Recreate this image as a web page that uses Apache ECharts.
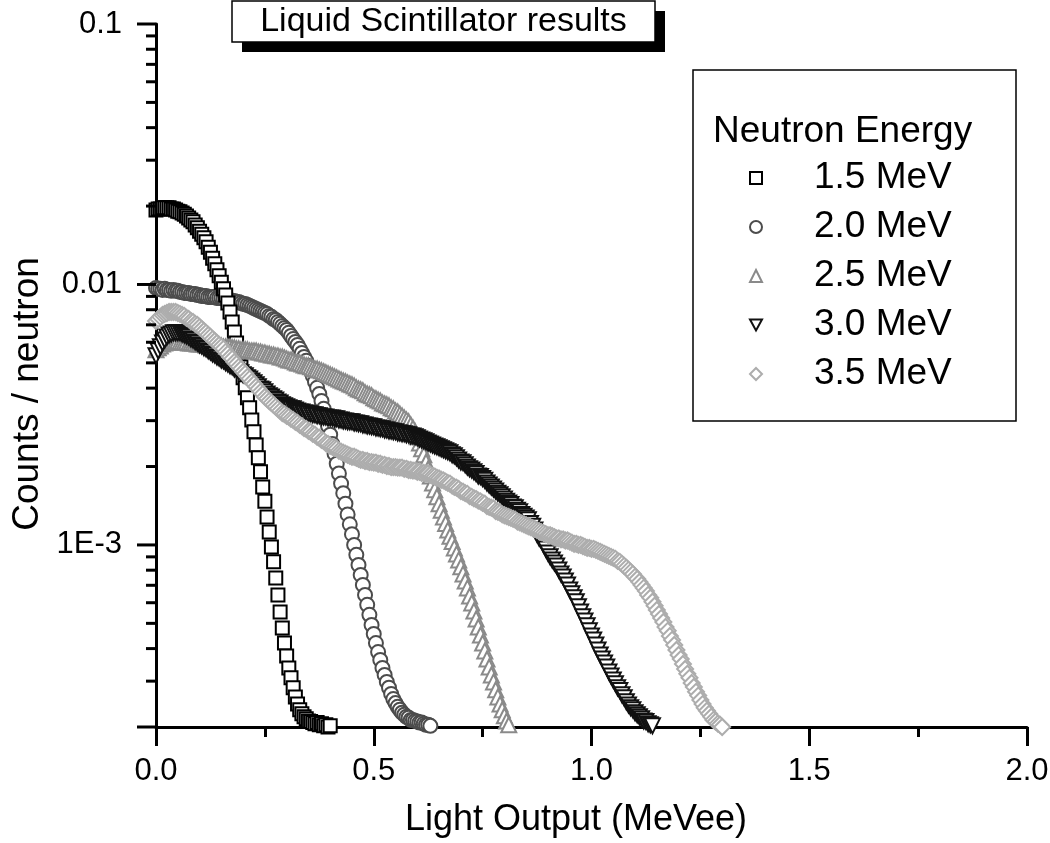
<!DOCTYPE html>
<html><head><meta charset="utf-8">
<script src="https://cdn.jsdelivr.net/npm/echarts@6/dist/echarts.min.js"></script>
<style>html,body{margin:0;padding:0;background:#fff}#chart{width:1050px;height:843px}</style>
</head><body><div id="chart"></div>
<script>
const FONT = '"Liberation Sans", Arial, Helvetica, sans-serif';
const BIN_WIDTH = 0.005; // MeVee per channel
const SERIES_NAMES = ['1.5 MeV', '2.0 MeV', '2.5 MeV', '3.0 MeV', '3.5 MeV'];

const COUNTS_1_5 = [
0.0193,0.0195,0.0195,0.0197,0.0197,0.0197,0.0197,0.0195,0.0195,0.0193,
0.0191,0.0190,0.0188,0.0186,0.0183,0.0180,0.0177,0.0174,0.0169,0.0165,
0.0160,0.0156,0.0151,0.0146,0.0139,0.0133,0.0126,0.0120,0.0114,0.0108,
0.0102,0.00962,0.00911,0.00849,0.00784,0.00718,0.00657,0.00596,0.00536,0.00483,
0.00438,0.00401,0.00367,0.00336,0.00302,0.00272,0.00242,0.00216,0.00191,0.00167,
0.00147,0.00128,0.00112,0.000983,0.000861,0.000747,0.000643,0.000553,0.000480,0.000420,
0.000375,0.000337,0.000309,0.000283,0.000261,0.000245,0.000233,0.000225,0.000219,0.000215,
0.000211,0.000210,0.000208,0.000206,0.000208,0.000204,0.000206,0.000202,0.000204,0.000200,
0.000202];

const COUNTS_2_0 = [
0.00970,0.00962,0.00962,0.00953,0.00962,0.00953,0.00953,0.00945,0.00953,0.00945,
0.00945,0.00936,0.00936,0.00928,0.00928,0.00928,0.00920,0.00920,0.00920,0.00911,
0.00911,0.00903,0.00903,0.00903,0.00895,0.00895,0.00895,0.00895,0.00887,0.00887,
0.00887,0.00880,0.00880,0.00872,0.00872,0.00864,0.00864,0.00857,0.00857,0.00849,
0.00842,0.00842,0.00834,0.00827,0.00820,0.00812,0.00805,0.00798,0.00791,0.00784,
0.00777,0.00771,0.00757,0.00751,0.00737,0.00731,0.00718,0.00706,0.00693,0.00681,
0.00669,0.00652,0.00634,0.00617,0.00602,0.00586,0.00566,0.00546,0.00527,0.00509,
0.00487,0.00466,0.00446,0.00423,0.00401,0.00380,0.00357,0.00333,0.00310,0.00286,
0.00265,0.00244,0.00224,0.00205,0.00188,0.00172,0.00158,0.00144,0.00131,0.00120,
0.00110,0.00100,0.000916,0.000838,0.000767,0.000702,0.000643,0.000589,0.000539,0.000493,
0.000455,0.000420,0.000388,0.000362,0.000337,0.000317,0.000298,0.000283,0.000268,0.000256,
0.000247,0.000239,0.000233,0.000227,0.000223,0.000219,0.000217,0.000213,0.000213,0.000211,
0.000210,0.000208,0.000208,0.000206,0.000204,0.000204,0.000202];

const COUNTS_2_5 = [
0.00561,0.00571,0.00581,0.00591,0.00596,0.00602,0.00602,0.00607,0.00607,0.00607,
0.00607,0.00602,0.00602,0.00602,0.00602,0.00596,0.00596,0.00596,0.00596,0.00591,
0.00591,0.00591,0.00591,0.00586,0.00586,0.00586,0.00586,0.00581,0.00581,0.00581,
0.00581,0.00576,0.00576,0.00576,0.00576,0.00571,0.00571,0.00566,0.00566,0.00561,
0.00561,0.00561,0.00561,0.00556,0.00556,0.00556,0.00556,0.00551,0.00551,0.00546,
0.00546,0.00541,0.00541,0.00536,0.00536,0.00532,0.00532,0.00527,0.00527,0.00522,
0.00518,0.00513,0.00513,0.00509,0.00504,0.00500,0.00500,0.00495,0.00491,0.00487,
0.00487,0.00483,0.00478,0.00474,0.00474,0.00470,0.00466,0.00462,0.00458,0.00454,
0.00450,0.00446,0.00442,0.00438,0.00434,0.00430,0.00426,0.00423,0.00419,0.00415,
0.00412,0.00408,0.00401,0.00397,0.00394,0.00391,0.00384,0.00380,0.00377,0.00374,
0.00367,0.00364,0.00360,0.00357,0.00351,0.00348,0.00345,0.00342,0.00336,0.00333,
0.00327,0.00324,0.00318,0.00313,0.00307,0.00302,0.00297,0.00289,0.00281,0.00272,
0.00260,0.00246,0.00234,0.00222,0.00208,0.00196,0.00184,0.00173,0.00163,0.00153,
0.00144,0.00136,0.00128,0.00121,0.00114,0.00108,0.00103,0.000974,0.000924,0.000876,
0.000824,0.000774,0.000727,0.000684,0.000637,0.000599,0.000558,0.000520,0.000484,0.000451,
0.000420,0.000392,0.000365,0.000340,0.000317,0.000298,0.000278,0.000261,0.000245,0.000233,
0.000221,0.000211,0.000204];

const COUNTS_3_0 = [
0.00532,0.00556,0.00576,0.00596,0.00612,0.00629,0.00640,0.00646,0.00652,0.00652,
0.00652,0.00652,0.00646,0.00640,0.00634,0.00629,0.00617,0.00612,0.00602,0.00596,
0.00586,0.00581,0.00571,0.00566,0.00556,0.00551,0.00541,0.00536,0.00527,0.00522,
0.00513,0.00509,0.00500,0.00495,0.00487,0.00483,0.00474,0.00470,0.00462,0.00458,
0.00450,0.00446,0.00438,0.00434,0.00426,0.00419,0.00412,0.00405,0.00397,0.00394,
0.00387,0.00380,0.00374,0.00370,0.00364,0.00360,0.00354,0.00351,0.00345,0.00342,
0.00339,0.00336,0.00333,0.00333,0.00330,0.00327,0.00324,0.00324,0.00321,0.00321,
0.00318,0.00318,0.00316,0.00316,0.00313,0.00313,0.00310,0.00310,0.00310,0.00307,
0.00307,0.00307,0.00305,0.00305,0.00302,0.00302,0.00299,0.00299,0.00297,0.00297,
0.00297,0.00294,0.00294,0.00292,0.00292,0.00289,0.00289,0.00286,0.00286,0.00284,
0.00284,0.00281,0.00281,0.00279,0.00279,0.00276,0.00276,0.00274,0.00274,0.00272,
0.00272,0.00269,0.00269,0.00267,0.00267,0.00265,0.00265,0.00262,0.00262,0.00260,
0.00258,0.00255,0.00253,0.00251,0.00249,0.00246,0.00244,0.00242,0.00240,0.00238,
0.00236,0.00234,0.00232,0.00230,0.00228,0.00226,0.00222,0.00220,0.00216,0.00212,
0.00208,0.00207,0.00203,0.00199,0.00196,0.00194,0.00191,0.00188,0.00184,0.00183,
0.00180,0.00177,0.00173,0.00170,0.00167,0.00164,0.00161,0.00158,0.00156,0.00153,
0.00150,0.00147,0.00145,0.00143,0.00140,0.00139,0.00136,0.00134,0.00131,0.00129,
0.00127,0.00125,0.00121,0.00118,0.00114,0.00110,0.00106,0.00104,0.00100,0.000965,
0.000932,0.000900,0.000876,0.000853,0.000831,0.000802,0.000774,0.000754,0.000727,0.000702,
0.000672,0.000649,0.000627,0.000605,0.000579,0.000553,0.000530,0.000511,0.000489,0.000468,
0.000447,0.000432,0.000413,0.000395,0.000378,0.000365,0.000352,0.000340,0.000325,0.000314,
0.000303,0.000293,0.000283,0.000276,0.000266,0.000259,0.000250,0.000243,0.000237,0.000233,
0.000227,0.000223,0.000219,0.000215,0.000211,0.000210,0.000206,0.000204,0.000202];

const COUNTS_3_5 = [
0.00724,0.00737,0.00751,0.00764,0.00771,0.00777,0.00784,0.00784,0.00784,0.00784,
0.00777,0.00771,0.00764,0.00757,0.00744,0.00737,0.00724,0.00718,0.00706,0.00699,
0.00687,0.00675,0.00663,0.00652,0.00640,0.00629,0.00617,0.00607,0.00596,0.00586,
0.00576,0.00566,0.00551,0.00541,0.00527,0.00518,0.00504,0.00495,0.00483,0.00474,
0.00462,0.00454,0.00442,0.00434,0.00423,0.00415,0.00405,0.00397,0.00387,0.00380,
0.00370,0.00364,0.00357,0.00351,0.00345,0.00339,0.00333,0.00327,0.00321,0.00318,
0.00313,0.00310,0.00305,0.00302,0.00297,0.00294,0.00289,0.00286,0.00281,0.00279,
0.00274,0.00272,0.00267,0.00265,0.00260,0.00258,0.00253,0.00251,0.00246,0.00244,
0.00240,0.00238,0.00236,0.00234,0.00230,0.00228,0.00226,0.00224,0.00222,0.00220,
0.00218,0.00218,0.00216,0.00214,0.00212,0.00212,0.00210,0.00210,0.00208,0.00208,
0.00207,0.00207,0.00205,0.00205,0.00203,0.00203,0.00201,0.00201,0.00199,0.00199,
0.00199,0.00198,0.00198,0.00198,0.00196,0.00196,0.00194,0.00194,0.00193,0.00193,
0.00191,0.00191,0.00189,0.00189,0.00188,0.00188,0.00186,0.00184,0.00183,0.00181,
0.00180,0.00178,0.00177,0.00175,0.00173,0.00172,0.00169,0.00167,0.00166,0.00164,
0.00161,0.00160,0.00158,0.00157,0.00154,0.00153,0.00151,0.00150,0.00148,0.00147,
0.00145,0.00144,0.00141,0.00140,0.00139,0.00138,0.00135,0.00134,0.00133,0.00131,
0.00130,0.00129,0.00128,0.00127,0.00126,0.00125,0.00123,0.00122,0.00121,0.00120,
0.00119,0.00118,0.00117,0.00116,0.00115,0.00114,0.00113,0.00112,0.00111,0.00110,
0.00109,0.00109,0.00108,0.00107,0.00106,0.00106,0.00105,0.00105,0.00104,0.00104,
0.00103,0.00102,0.00101,0.00101,0.00100,0.00100,0.000991,0.000983,0.000974,0.000974,
0.000966,0.000966,0.000957,0.000949,0.000941,0.000932,0.000924,0.000916,0.000908,0.000900,
0.000892,0.000884,0.000868,0.000861,0.000846,0.000831,0.000817,0.000802,0.000788,0.000774,
0.000754,0.000740,0.000721,0.000702,0.000684,0.000666,0.000643,0.000627,0.000605,0.000584,
0.000563,0.000543,0.000524,0.000506,0.000484,0.000468,0.000447,0.000432,0.000413,0.000395,
0.000378,0.000365,0.000349,0.000334,0.000320,0.000309,0.000295,0.000285,0.000273,0.000264,
0.000254,0.000245,0.000237,0.000231,0.000225,0.000219,0.000213,0.000210,0.000206,0.000204,
0.000200];

const X_TICK_LABELS = ['0.0', '0.5', '1.0', '1.5', '2.0'];
const Y_TICK_LABELS = { '-1': '0.1', '-2': '0.01', '-3': '1E-3' };
const Y_MAJOR_TICKS = [0.0002, 0.001, 0.01, 0.1];
const Y_MINOR_TICKS = [0.0003,0.0004,0.0005,0.0006,0.0007,0.0008,0.0009,
  0.002,0.003,0.004,0.005,0.006,0.007,0.008,0.009,
  0.02,0.03,0.04,0.05,0.06,0.07,0.08,0.09];
const TITLE_TEXT = 'Liquid Scintillator results';
const LEGEND_TITLE = 'Neutron Energy';
const X_NAME = 'Light Output (MeVee)';
const Y_NAME = 'Counts / neutron';

const ALL_COUNTS = [COUNTS_1_5, COUNTS_2_0, COUNTS_2_5, COUNTS_3_0, COUNTS_3_5];
const STYLES = [
  { symbol: 'rect', size: 13, color: '#000000', z: 3 },
  { symbol: 'circle', size: 14, color: '#4c4c4c', z: 2 },
  { symbol: 'triangle', size: 15, color: '#8a8a8a', z: 3 },
  { symbol: 'path://M0,0L10,0L5,9Z', size: 15, color: '#111111', z: 3 },
  { symbol: 'diamond', size: 16, color: '#adadad', z: 3 }
];

function toXY(arr) { return arr.map((v, i) => [+(i * BIN_WIDTH).toFixed(3), v]); }

const scatterSeries = ALL_COUNTS.map((arr, k) => ({
  name: SERIES_NAMES[k],
  type: 'scatter',
  data: toXY(arr),
  symbol: STYLES[k].symbol,
  symbolSize: STYLES[k].size,
  itemStyle: { color: '#ffffff', borderColor: STYLES[k].color, borderWidth: 2, opacity: 1 },
  z: STYLES[k].z,
  silent: true,
  animation: false,
  clip: true
}));

const tickData = Y_MAJOR_TICKS.map(v => [0, v, 1]).concat(Y_MINOR_TICKS.map(v => [0, v, 0]));

const tickSeries = {
  name: 'yTicks',
  type: 'custom',
  data: tickData,
  clip: false,
  silent: true,
  z: 5,
  renderItem: function (params, api) {
    const p = api.coord([0, api.value(1)]);
    const len = api.value(2) === 1 ? 19 : 10;
    return {
      type: 'line',
      shape: { x1: p[0] - len, y1: p[1], x2: p[0], y2: p[1] },
      style: { stroke: '#000', lineWidth: 3 }
    };
  }
};

const chart = echarts.init(document.getElementById('chart'), null, { renderer: 'canvas' });
chart.setOption({
  animation: false,
  backgroundColor: '#ffffff',
  grid: { left: 156, right: 23, top: 24, bottom: 116, containLabel: false, outerBoundsMode: 'none' },
  xAxis: {
    type: 'value', min: 0, max: 2, interval: 0.5,
    axisLine: { show: true, onZero: false, lineStyle: { color: '#000', width: 3 } },
    axisTick: { show: true, inside: false, length: 19, lineStyle: { color: '#000', width: 3 } },
    minorTick: { show: true, splitNumber: 2, length: 10, lineStyle: { color: '#000', width: 3 } },
    splitLine: { show: false },
    axisLabel: {
      margin: 29, color: '#000', fontSize: 31, fontFamily: FONT,
      formatter: function (v) {
        const i = Math.round(v / 0.5);
        return Math.abs(v - i * 0.5) < 1e-9 ? (X_TICK_LABELS[i] || '') : '';
      }
    }
  },
  yAxis: {
    type: 'log', logBase: 10, min: 0.0002, max: 0.1,
    axisLine: { show: true, onZero: false, lineStyle: { color: '#000', width: 3 } },
    axisTick: { show: false },
    minorTick: { show: false },
    splitLine: { show: false },
    axisLabel: {
      margin: 34, color: '#000', fontSize: 31, fontFamily: FONT,
      showMinLabel: true, showMaxLabel: true,
      formatter: function (v) {
        const e = Math.log10(v);
        const r = Math.round(e);
        return Math.abs(e - r) < 1e-6 ? (Y_TICK_LABELS[String(r)] || '') : '';
      }
    }
  },
  legend: {
    orient: 'vertical', left: 749, top: 158, padding: 0,
    itemWidth: 12, itemHeight: 12, itemGap: 9,
    selectedMode: false,
    data: SERIES_NAMES,
    textStyle: { color: '#000', fontSize: 37, fontFamily: FONT, lineHeight: 40, padding: [0, 0, 0, 47] }
  },
  graphic: [
    { type: 'rect', z: 10, shape: { x: 242, y: 11, width: 423, height: 41 }, style: { fill: '#000' } },
    { type: 'rect', z: 11, shape: { x: 232, y: 1, width: 423, height: 41 }, style: { fill: '#fff', stroke: '#000', lineWidth: 1.5 } },
    { type: 'text', z: 12, x: 443.5, y: 22, style: { text: TITLE_TEXT, fontSize: 34, fontFamily: FONT, fill: '#000', align: 'center', verticalAlign: 'middle' } },
    { type: 'rect', z: 1, shape: { x: 693, y: 70, width: 323, height: 351 }, style: { fill: 'none', stroke: '#000', lineWidth: 1.5 } },
    { type: 'text', z: 12, x: 713, y: 132, style: { text: LEGEND_TITLE, fontSize: 37, fontFamily: FONT, fill: '#000', align: 'left', verticalAlign: 'middle' } },
    { type: 'text', z: 12, x: 576, y: 820, style: { text: X_NAME, fontSize: 36, fontFamily: FONT, fill: '#000', align: 'center', verticalAlign: 'middle' } },
    { type: 'text', z: 12, x: 28, y: 394, rotation: Math.PI / 2, style: { text: Y_NAME, fontSize: 37, fontFamily: FONT, fill: '#000', align: 'center', verticalAlign: 'middle' } }
  ],
  series: scatterSeries.concat([tickSeries])
});
</script></body></html>
